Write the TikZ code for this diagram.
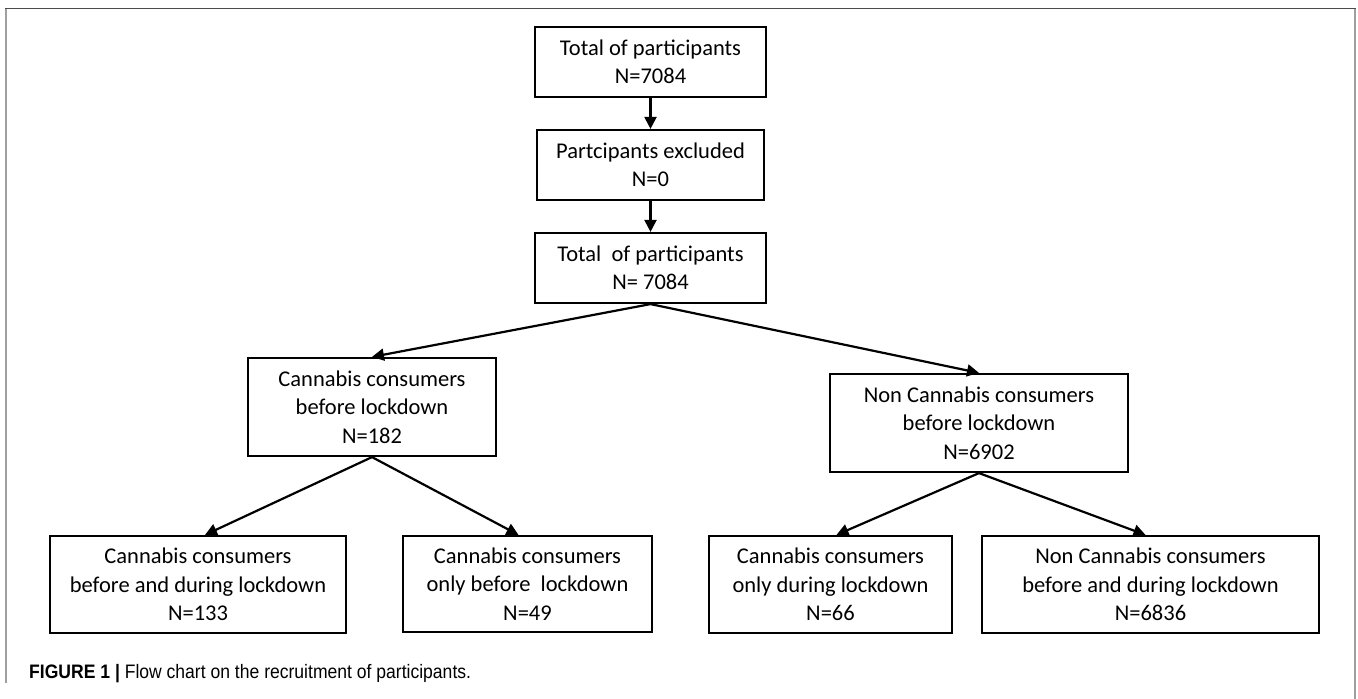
\documentclass[tikz,border=0pt]{standalone}
\usepackage{fontspec}
\setmainfont{Carlito}
\newfontfamily\capfont[FakeStretch=0.9]{Liberation Sans}
\usetikzlibrary{arrows.meta}
\begin{document}
\begin{tikzpicture}[x=1pt,y=-1pt,
  box/.style={draw=black,line width=2.2pt,align=center,inner sep=0pt,
    font=\fontsize{22.5}{28.5}\selectfont},
  arr/.style={line width=2.2pt,-{Triangle[length=12pt,width=12pt]}}]
\useasboundingbox (0,0) rectangle (1358,699);
% frame
\draw[line width=1.6pt,gray!75] (6,683) -- (6,8.5);
\draw[line width=1.6pt,gray!75] (1355,8.5) -- (1355,699);
\draw[line width=1.8pt,black!70] (5.2,8.5) -- (1355.8,8.5);
% nodes
\node[box,minimum width=231,minimum height=70] (t1) at (650.5,62) {Total of participants\\N=7084};
\node[box,minimum width=227,minimum height=70] (ex) at (650.5,165) {Partcipants excluded\\N=0};
\node[box,minimum width=231,minimum height=70] (t2) at (650.5,268) {Total\ \ of participants\\N= 7084};
\node[box,minimum width=248,minimum height=98] (cb) at (372,407) {Cannabis consumers\\before lockdown\\N=182};
\node[box,minimum width=298,minimum height=98] (nc) at (979,423) {Non Cannabis consumers\\before lockdown\\N=6902};
\node[box,minimum width=296,minimum height=97] (a) at (198,584.5) {Cannabis consumers\\before and during lockdown\\N=133};
\node[box,minimum width=249,minimum height=96] (b) at (527.5,584) {Cannabis consumers\\only before\ \ lockdown\\N=49};
\node[box,minimum width=243,minimum height=97] (c) at (830.5,584.5) {Cannabis consumers\\only during lockdown\\N=66};
\node[box,minimum width=337,minimum height=97] (d) at (1150.5,584.5) {Non Cannabis consumers\\before and during lockdown\\N=6836};
% connectors
\draw[arr] (t1.south) -- (ex.north);
\draw[arr] (ex.south) -- (t2.north);
\draw[arr] (t2.south) -- (cb.north);
\draw[arr] (t2.south) -- (nc.north);
\draw[arr] (cb.south) -- ([xshift=7pt]a.north);
\draw[arr] (cb.south) -- ([xshift=-9pt]b.north);
\draw[arr] (nc.south) -- ([xshift=6pt]c.north);
\draw[arr] (nc.south) -- ([xshift=-5pt]d.north);
% caption
\node[anchor=base west,inner sep=0pt,font=\capfont\fontsize{19.5}{22}\selectfont] (cap) at (29,678)
  {\textbf{FIGURE 1 |} Flow chart on the recruitment of participants.};
\end{tikzpicture}
\end{document}
